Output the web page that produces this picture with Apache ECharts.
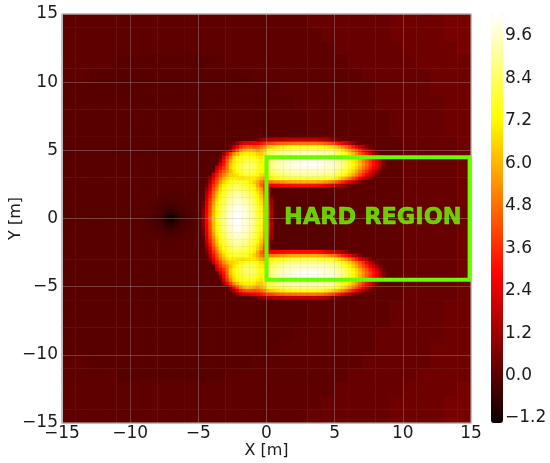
<!DOCTYPE html>
<html><head><meta charset="utf-8">
<style>html,body{margin:0;padding:0;background:#fff}#c{width:550px;height:463px}</style>
<script src="https://cdn.jsdelivr.net/npm/echarts@6/dist/echarts.min.js"></script>
</head><body><div id="c"></div>
<script>
// Background field, 1 m cells, y = 14.5 down to 0.5 (picture is mirror-symmetric about y = 0)
const backgroundUpperHalf = [
[.1,.1,.1,.1,.1,.1,.1,.1,.1,.1,.1,.1,.1,.1,.1,.1,.1,.1,.25,.25,.25,.25,.25,.25,.38,.38,.38,.38,.55,.55],
[.1,.1,.1,.1,.1,.1,.1,.1,.1,.1,.1,.1,.1,.1,.1,.1,.1,.1,.1,.25,.25,.25,.25,.25,.38,.38,.38,.38,.55,.55],
[.1,.1,.1,.1,.1,.1,.1,.1,.1,.1,.1,.1,.1,.1,.1,.1,.1,.1,.1,.1,.25,.25,.25,.25,.25,.38,.38,.38,.38,.55],
[.1,.1,.1,.1,0,0,0,0,0,0,0,0,.1,.1,.1,.1,.1,.1,.1,.1,.1,.25,.25,.25,.25,.25,.38,.38,.38,.38],
[.1,.1,0,0,0,0,0,0,0,0,0,0,0,0,.1,.1,.1,.1,.1,.1,.1,.1,.25,.25,.25,.25,.25,.38,.38,.38],
[0,0,0,0,0,0,0,0,0,0,0,0,0,0,0,0,.1,.1,.1,.1,.1,.1,.1,.25,.25,.25,.25,.38,.38,.38],
[0,0,0,0,0,0,0,0,0,0,0,0,0,0,0,0,0,.1,.1,.1,.1,.1,.1,.25,.25,.25,.25,.25,.38,.38],
[0,0,0,0,0,0,0,0,0,0,0,0,0,0,0,0,0,0,.1,.1,.1,.1,.1,.1,.25,.25,.25,.25,.38,.38],
[0,0,0,0,0,0,0,0,0,0,0,0,0,0,0,0,0,0,.1,.1,.1,.1,.1,.1,.25,.25,.25,.25,.38,.38],
[0,0,0,0,0,0,0,0,0,0,0,0,0,0,0,0,0,0,0,.1,.1,.1,.1,.1,.1,.25,.25,.25,.25,.38],
[0,0,0,0,0,0,0,0,0,0,0,0,0,0,0,0,0,0,0,.1,.1,.1,.1,.1,.1,.25,.25,.25,.25,.38],
[0,0,0,0,0,0,0,0,0,0,0,0,0,0,0,0,0,0,0,.1,.1,.1,.1,.1,.1,.25,.25,.25,.25,.38],
[0,0,0,0,0,0,0,0,0,0,0,0,0,0,0,0,0,0,0,0,.1,.1,.1,.1,.1,.25,.25,.25,.25,.38],
[0,0,0,0,0,0,0,0,0,0,0,0,0,0,0,0,0,0,0,0,.1,.1,.1,.1,.1,.25,.25,.25,.25,.38],
[0,0,0,0,0,0,0,0,0,0,0,0,0,0,0,0,0,0,0,0,.1,.1,.1,.1,.1,.25,.25,.25,.25,.38]
];
// Hot C-shape, 0.25 m columns from x = -4.875, rows top to middle; empty = background shows
const hotUpperHalf = [
[,,,,,,,,,,,,,,,,,.5,1,1.2,1.4,1.4,1.6,1.6,1.6,1.8,1.8,1.8,1.8,1.8,1.8,1.8,1.8,1.8,1.8,1.6,1.6,1.4,1.2,.8,.6,.4],
[,,,,,,,,,,.4,1,1.7,2.3,2.4,2.5,2.7,2.9,3.2,3.5,4,4.1,4.3,4.5,4.6,4.7,4.7,4.8,4.8,4.9,4.9,4.9,4.9,4.9,4.9,4.8,4.7,4.5,4.2,4,3.5,3.1,2.6,2.1,1.6,1,.5,.2],
[,,,,,,,,,.4,1.5,2.7,3.6,4.1,4.4,4.4,4.2,4.4,4.8,5.2,6.1,6.4,6.6,6.8,7,7.1,7.3,7.4,7.4,7.4,7.5,7.5,7.5,7.5,7.5,7.4,7.3,7.1,6.9,6.6,6.2,5.7,5.2,4.6,4,3.3,2.6,1.9,1.3,.7,.2],
[,,,,,,,,,1.2,3,4.1,5.2,5.9,6.2,6.1,5.8,5.5,5.9,6.3,7.4,7.7,7.9,8.1,8.2,8.4,8.4,8.6,8.6,8.6,8.7,8.7,8.7,8.7,8.7,8.6,8.6,8.5,8.4,8.2,7.7,7.3,6.9,6.3,5.7,5,4.3,3.5,2.7,2,1.3,.7,.2],
[,,,,,,,1,2.7,4,5.2,6.1,6.8,7,7.1,7.1,6.9,6.5,6.4,6.9,8,8.3,8.5,8.7,8.9,9,9.1,9.2,9.2,9.3,9.3,9.3,9.3,9.3,9.3,9.3,9.2,9.2,9.1,9,8.4,8.1,7.8,7.3,6.7,6.1,5.4,4.6,3.8,3.1,2.3,1.5,.8,.2],
[,,,,,,,2,3.7,5.2,6.5,7.1,7.4,7.6,7.7,7.7,7.5,7.1,6.8,7.2,8.3,8.6,8.9,9.1,9.2,9.3,9.5,9.6,9.6,9.7,9.7,9.7,9.7,9.7,9.7,9.7,9.6,9.6,9.5,9.3,9,8.8,8.4,8,7.5,6.9,6.2,5.5,4.7,4,3.2,2.4,1.6,.8,.2],
[,,,,,,.8,2.8,4.4,5.8,6.9,7.4,7.8,8,8.2,8.1,7.9,7.6,7.1,7.4,8.5,8.8,9,9.2,9.4,9.6,9.7,9.8,9.8,9.9,10,10,10,10,10,9.9,9.9,9.8,9.7,9.6,9.4,9,8.7,8.3,7.8,7.2,6.7,6,5.2,4.5,3.7,3,2.3,1.4,.6],
[,,,,,,2,3.1,4.8,6.3,7.1,7.6,8,8.3,8.5,8.5,8.2,7.8,7.4,7.4,8.6,8.9,9.1,9.3,9.5,9.6,9.7,9.8,9.9,10,10.2,10.2,10.2,10.2,10.2,10,9.9,9.8,9.7,9.6,9.4,9.1,8.8,8.4,7.9,7.3,6.8,6.2,5.4,4.7,3.9,3.2,2.5,1.6,.7],
[,,,,,1.7,2.9,3.7,4.9,6.4,7.2,7.7,8.1,8.4,8.6,8.5,8.3,7.9,7.4,7.3,8.4,8.8,8.9,9.1,9.3,9.5,9.6,9.7,9.7,9.8,9.8,9.8,9.8,9.8,9.8,9.8,9.7,9.7,9.6,9.5,9.2,8.9,8.6,8.2,7.7,7.1,6.5,5.8,5,4.3,3.5,2.8,2,1.2,.4],
[,,,,,2.4,3.6,4.5,5.2,6.1,6.9,7.5,7.9,8.2,8.3,8.3,8.1,7.7,7.2,7,8.1,8.4,8.7,8.9,9,9.2,9.2,9.3,9.4,9.5,9.5,9.5,9.5,9.5,9.5,9.5,9.4,9.3,9.3,9.1,8.8,8.5,8.2,7.7,7.1,6.5,5.8,5,4.2,3.5,2.7,1.9,1.2,.5],
[,,,,1.9,3.2,4.2,5.2,6,6.5,6.7,6.9,7.4,7.7,7.9,7.8,7.6,7.3,6.8,6.5,7.7,8,8.2,8.3,8.5,8.6,8.8,8.9,8.9,8.9,9,9,9,9,9,8.9,8.9,8.8,8.7,8.5,8.3,8,7.6,7.1,6.5,5.8,5.1,4.3,3.5,2.7,1.9,1.2,.5],
[,,,1,2.5,3.8,4.9,5.9,6.6,7,7,6.9,6.8,6.8,6.9,7,6.9,6.5,6,5.5,6.8,7.1,7.4,7.5,7.7,7.8,7.9,8,8,8,8.1,8.1,8.1,8.1,8.1,8,7.9,7.8,7.7,7.4,7,6.6,6.1,5.5,4.9,4.2,3.5,2.7,2,1.3,.7,.2],
[,,,1.5,3.1,4.3,5.5,6.5,7.2,7.6,7.8,7.9,7.9,7.7,7.5,7,6.5,5.9,5,4.3,4.8,5,5.2,5.3,5.5,5.6,5.7,5.8,5.8,5.9,5.9,5.9,5.9,5.9,5.9,5.8,5.7,5.5,5.2,4.9,4.5,4,3.5,3,2.5,1.9,1.3,.7,.2],
[,,.4,2,3.6,4.9,6.2,7.1,7.6,8,8.2,8.2,8.1,8.1,7.8,7.5,6.9,5.9,4.6,3.6,2.6,2.7,2.7,2.9,2.9,3,3,3.1,3.1,3.1,3.1,3.1,3.1,3.1,3.1,3,2.9,2.6,2.3,2.2,1.9,1.6,1.2,.8,.4,.1],
[,,.8,2.5,4.1,5.3,6.6,7.5,7.9,8.2,8.5,8.6,8.5,8.3,8.2,7.8,7.3,6.5,5.7,3.8,2],
[,,1.3,3,4.6,5.9,7,7.8,8.1,8.6,8.9,9,8.9,8.7,8.4,8.1,7.6,6.9,6,4.2,2.3],
[,,1.7,3.3,4.9,6.3,7.4,8,8.5,8.9,9.2,9.2,9.2,9,8.7,8.3,7.9,7.3,6.4,4.7,2.8,.5],
[,,2,3.7,5.2,6.6,7.6,8.1,8.7,9.2,9.4,9.5,9.4,9.3,9,8.6,8.1,7.5,6.7,5,3,1],
[,.4,2.3,3.9,5.6,7,7.8,8.3,8.9,9.4,9.6,9.7,9.6,9.5,9.2,8.8,8.2,7.7,7,5.2,3.3,1.2],
[,.5,2.5,4.1,5.9,7.1,7.9,8.6,9.1,9.5,9.8,9.9,9.9,9.6,9.4,9,8.4,7.9,7.2,5.5,3.5,1.3],
[,.8,2.6,4.3,6,7.3,8,8.7,9.2,9.7,10,10,10,9.8,9.5,9.1,8.6,8,7.3,5.7,3.7,1.5],
[,.8,2.8,4.4,6.1,7.3,8.1,8.8,9.3,9.7,10,10.2,10.1,9.9,9.6,9.2,8.7,8,7.4,5.8,3.8,1.7],
[,1,2.9,4.5,6.2,7.4,8.2,8.8,9.4,9.8,10.1,10.2,10.1,9.9,9.6,9.2,8.7,7.9,7.4,5.9,3.5,1.3]
];
// Dark dip at the source, 0.25 m cells, x = -8.875 .. -5.125, y = 1.875 down to 0.125
const dipUpperHalf = [
[,,,,,,-.05,-.05,-.05,-.05],
[,,,,,-.05,-.1,-.1,-.1,-.1,-.05],
[,,,,-.05,-.1,-.15,-.15,-.15,-.15,-.1,-.05],
[,,,-.05,-.1,-.2,-.2,-.25,-.25,-.2,-.2,-.1,-.05],
[,,-.05,-.1,-.2,-.25,-.3,-.35,-.35,-.3,-.25,-.2,-.1,-.05],
[,-.05,-.1,-.2,-.25,-.3,-.45,-.55,-.55,-.45,-.3,-.25,-.2,-.1,-.05],
[-.05,-.1,-.15,-.2,-.3,-.45,-.65,-.8,-.8,-.65,-.45,-.3,-.2,-.15,-.1,-.05],
[-.05,-.1,-.15,-.25,-.35,-.55,-.8,-1.2,-1.2,-.8,-.55,-.35,-.25,-.15,-.1,-.05]
];
const colorbarTicks = [-1.2,0,1.2,2.4,3.6,4.8,6,7.2,8.4,9.6];
const colorMin = -1.34, colorMax = 10.22;
const hardRegionX = [0,14.9,14.9,0,0];
const hardRegionY = [-4.5,-4.5,4.5,4.5,-4.5];
const regionLabel = 'HARD REGION';
const regionLabelAt = [7.8,0];

const PL=62, PT=14, PS=409, K=PS/30;
const font='DejaVu Sans', ink='#1a1a1a';
const minus=s=>String(s).replace('-','\u2212');
const free={outerBoundsMode:'none',containLabel:false};

function cells(rows,nCols){
  const all=[...rows,...rows.slice().reverse()].reverse(), out=[];
  all.forEach((r,j)=>{for(let i=0;i<nCols;i++){if(r[i]!=null)out.push([i,j,r[i]]);}});
  return {data:out,nRows:all.length};
}
const bg=cells(backgroundUpperHalf,30), hot=cells(hotUpperHalf,56), dip=cells(dipUpperHalf,16);
const layers=[
 {c:bg,n:30,x0:-15,x1:15,y1:15},
 {c:hot,n:56,x0:-5,x1:9,y1:5.92},
 {c:dip,n:16,x0:-9,x1:-5,y1:2}
];
function hotColor(t){
  const f=(a,b)=>Math.max(0,Math.min(1,(t-a)/(b-a)));
  const r=t<.365?.0416+.9584*f(0,.365):1, g=f(.365,.746), b=f(.746,1);
  return 'rgb('+[r,g,b].map(c=>Math.round(c*255)).join(',')+')';
}
const stops=[];for(let i=0;i<=64;i++)stops.push(hotColor(i/64));

const grids=[],xA=[],yA=[],series=[];
layers.forEach((l,i)=>{
  grids.push({...free,left:PL+(l.x0+15)*K,top:PT+(15-l.y1)*K,width:(l.x1-l.x0)*K,height:l.y1*K*2});
  xA.push({type:'category',gridIndex:i,show:false,data:Array.from({length:l.n},(_,k)=>k)});
  yA.push({type:'category',gridIndex:i,show:false,data:Array.from({length:l.c.nRows},(_,k)=>k)});
  series.push({type:'heatmap',xAxisIndex:i,yAxisIndex:i,data:l.c.data,progressive:0,z:2+i,silent:true,emphasis:{disabled:true}});
});
const tickLabel={fontFamily:font,fontSize:17,color:ink,formatter:v=>minus(v)};
const spine={show:true,onZero:false,lineStyle:{color:'#bdbdbd',width:1}};
const gridLine={show:true,lineStyle:{color:'rgba(190,190,190,0.3)',width:1}};
grids.push({...free,left:PL,top:PT,width:PS,height:PS,show:true,borderColor:'#bdbdbd',borderWidth:1,backgroundColor:'transparent',z:10});
xA.push({type:'value',gridIndex:3,min:-15,max:15,interval:5,z:10,axisLine:spine,axisTick:{show:false},splitLine:gridLine,
  axisLabel:{...tickLabel,margin:2,showMinLabel:true,showMaxLabel:true,hideOverlap:false},
  name:'X [m]',nameLocation:'middle',nameGap:20,nameMoveOverlap:false,nameTextStyle:{fontFamily:font,fontSize:16,color:ink}});
yA.push({type:'value',gridIndex:3,min:-15,max:15,interval:5,z:10,axisLine:spine,axisTick:{show:false},splitLine:gridLine,
  axisLabel:{...tickLabel,margin:4,showMinLabel:true,showMaxLabel:true,hideOverlap:false},
  name:'Y [m]',nameLocation:'middle',nameGap:38,nameRotate:90,nameMoveOverlap:false,nameTextStyle:{fontFamily:font,fontSize:16,color:ink}});
series.push({type:'line',xAxisIndex:3,yAxisIndex:3,data:hardRegionX.map((x,i)=>[x,hardRegionY[i]]),showSymbol:false,symbol:'none',z:20,clip:false,silent:true,
  lineStyle:{color:'#66ff00',width:4,join:'miter',cap:'square'}});
series.push({type:'scatter',xAxisIndex:3,yAxisIndex:3,data:[regionLabelAt],symbolSize:0,z:21,silent:true,
  label:{show:true,position:'inside',formatter:regionLabel,fontFamily:font,fontWeight:'bold',fontSize:22.5,color:'#70ff00',textBorderColor:'#70ff00',textBorderWidth:0.5,align:'center',verticalAlign:'middle'}});
// colorbar axis
grids.push({...free,left:491,top:PT,width:12,height:PS});
xA.push({type:'value',gridIndex:4,show:false,min:0,max:1});
yA.push({type:'value',gridIndex:4,position:'right',min:colorMin,max:colorMax,axisLine:{show:false},axisTick:{show:false},splitLine:{show:false},
  axisLabel:{fontFamily:font,fontSize:17,color:ink,margin:2,customValues:colorbarTicks,formatter:v=>minus(v.toFixed(1)),showMinLabel:true,showMaxLabel:true}});
series.push({type:'line',xAxisIndex:4,yAxisIndex:4,data:[],silent:true});

const chart=echarts.init(document.getElementById('c'),null,{renderer:'canvas'});
chart.setOption({animation:false,backgroundColor:'#fff',grid:grids,xAxis:xA,yAxis:yA,series,
  visualMap:{type:'continuous',seriesIndex:[0,1,2],dimension:2,min:colorMin,max:colorMax,left:491,top:PT,itemWidth:12,itemHeight:PS,padding:0,
    calculable:false,realtime:false,hoverLink:false,text:null,showLabel:false,inRange:{color:stops},textStyle:{color:'transparent'}}});
</script></body></html>
